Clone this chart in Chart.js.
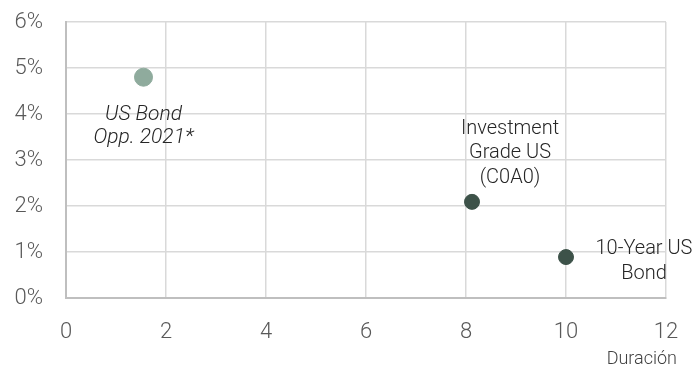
<!DOCTYPE html>
<html><head><meta charset="utf-8">
<script src="https://cdn.jsdelivr.net/npm/chart.js@4"></script>
<style>html,body{margin:0;padding:0;background:#fff}#wrap{width:699px;height:368px}</style>
</head><body><div id="wrap"><canvas id="c"></canvas></div>
<script>
const names = [["US Bond","Opp. 2021*"],["Investment","Grade US","(C0A0)"],["10-Year US","Bond"]];
const duration = [1.55, 8.12, 10.0];
const yieldPct = [4.8, 2.09, 0.89];
const xTicks = [0,2,4,6,8,10,12];
const yTicks = [0,1,2,3,4,5,6];
const pointColors = ['#8fab9d','#3d5249','#3d5249'];
const pointSizes = [9,7.5,7.5];
const xTitle = 'Duración';

const FONT = 'Roboto, "Liberation Sans", sans-serif';
const labelPlugin = {
  id:'labels',
  afterDatasetsDraw(chart){
    const ctx = chart.ctx;
    const meta = chart.getDatasetMeta(0);
    const specs = [
      {dx:0, dy:38, gap:22.5, italic:true, size:21},
      {dx:38, dy:-73, gap:24.5, size:20},
      {dx:78, dy:-8, gap:25, size:20}
    ];
    ctx.save();
    ctx.fillStyle = '#262626';
    ctx.textAlign = 'center';
    ctx.textBaseline = 'middle';
    meta.data.forEach((el,i)=>{
      const s = specs[i];
      ctx.font = (s.italic?'italic ':'') + '300 ' + s.size + 'px ' + FONT;
      names[i].forEach((line,j)=>{
        ctx.fillText(line, el.x + s.dx, el.y + s.dy + j*s.gap);
      });
    });
    const xs = chart.scales.x;
    ctx.font = '300 18px ' + FONT;
    ctx.fillStyle = '#404040';
    ctx.textAlign = 'right';
    ctx.fillText(xTitle, xs.right + 11, 359);
    ctx.restore();
  }
};

new Chart(document.getElementById('c'), {
  type:'scatter',
  data:{datasets:[{
    data: duration.map((d,i)=>({x:d,y:yieldPct[i]})),
    backgroundColor: pointColors,
    borderColor: pointColors,
    pointRadius: pointSizes,
    pointHoverRadius: pointSizes
  }]},
  options:{
    responsive:true, maintainAspectRatio:false, animation:false,
    devicePixelRatio:1,
    layout:{padding:{left:0,right:33,top:22,bottom:0}},
    plugins:{legend:{display:false},tooltip:{enabled:false}},
    scales:{
      x:{type:'linear',min:0,max:12,
        afterBuildTicks:s=>{s.ticks = xTicks.map(v=>({value:v}));},
        afterFit:s=>{s.height=70; s.paddingLeft=0; s.paddingRight=0;},
        grid:{color:'#d9d9d9',lineWidth:1.5,drawTicks:false},
        border:{color:'#bfbfbf',width:2},
        ticks:{padding:21,color:'#595959',font:{family:FONT,size:22,weight:300}}
      },
      y:{min:0,max:6,
        afterBuildTicks:s=>{s.ticks = yTicks.map(v=>({value:v}));},
        afterFit:s=>{s.width=66; s.paddingTop=0; s.paddingBottom=0;},
        grid:{color:'#d9d9d9',lineWidth:1.5,drawTicks:false},
        border:{color:'#bfbfbf',width:2},
        ticks:{padding:23,color:'#595959',font:{family:FONT,size:22,weight:300},callback:v=>v+'%'}
      }
    }
  },
  plugins:[labelPlugin]
});
</script></body></html>
